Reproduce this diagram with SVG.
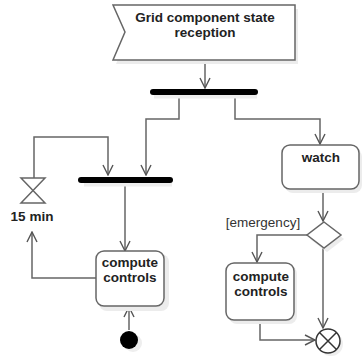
<svg xmlns="http://www.w3.org/2000/svg" width="362" height="363" viewBox="0 0 362 363">
<defs>
<style>
.shape{fill:#fff;stroke:#666;stroke-width:1.5}
.shadow{fill:#ececec;stroke:none}
.bar{stroke:#000;stroke-width:6;stroke-linecap:round}
.edge{fill:none;stroke:#666;stroke-width:1.5}
.lbl{font-family:"Liberation Sans",Arial,sans-serif;font-weight:bold;font-size:13.5px;fill:#222;text-anchor:middle}
.guard{font-family:"Liberation Sans",Arial,sans-serif;font-size:13.5px;fill:#333;text-anchor:middle}
</style>
<marker id="arr" viewBox="0 0 12 12" refX="11" refY="6" markerWidth="12" markerHeight="12" markerUnits="userSpaceOnUse" orient="auto">
<path d="M1,1 L11,6 L1,11" fill="none" stroke="#555" stroke-width="1.4"/>
</marker>
</defs>
<rect width="362" height="363" fill="#fff"/>
<g id="connectors">
<path class="edge" d="M205,60 V88" marker-end="url(#arr)"/>
<path class="edge" d="M179,95 V119 H146 V175" marker-end="url(#arr)"/>
<path class="edge" d="M235,95 V119 H320 V144" marker-end="url(#arr)"/>
<path class="edge" d="M34,178 V137 H108 V175" marker-end="url(#arr)"/>
<path class="edge" d="M125,183 V251" marker-end="url(#arr)"/>
<path class="edge" d="M96,278 H32 V232" marker-end="url(#arr)"/>
<path class="edge" d="M129,330 V307" marker-end="url(#arr)"/>
<path class="edge" d="M323,189 V221" marker-end="url(#arr)"/>
<path class="edge" d="M307,235 H257 V262" marker-end="url(#arr)"/>
<path class="edge" d="M323,248 V328" marker-end="url(#arr)"/>
<path class="edge" d="M260,320 V340 H315" marker-end="url(#arr)"/>
</g>
<g id="signal">
<path class="shadow" d="M116,9 H298 V64 H116 L128,36 Z"/>
<path class="shape" d="M113,5 H295 V60 H113 L125,32 Z"/>
<text class="lbl" x="205" y="22" font-size="13">Grid component state</text>
<text class="lbl" x="205" y="37" font-size="13">reception</text>
</g>
<g id="fork1">
<line x1="154" y1="96" x2="257" y2="96" stroke="#eee" stroke-width="5"/>
<line class="bar" x1="153" y1="92" x2="255" y2="92"/>
</g>
<g id="join1">
<line x1="84" y1="184" x2="172" y2="184" stroke="#eee" stroke-width="5"/>
<line class="bar" x1="81" y1="180" x2="170" y2="180"/>
</g>
<g id="timer">
<path d="M21,178 H45 L21,203 H45 Z" fill="#fff" stroke="#666" stroke-width="1.5"/>
<text class="lbl" x="32" y="221" font-size="13">15 min</text>
</g>
<g id="compute1">
<rect class="shadow" x="99" y="254" width="70" height="57" rx="8"/>
<rect class="shape" x="96" y="251" width="68" height="55" rx="8"/>
<text class="lbl" x="130" y="267">compute</text>
<text class="lbl" x="130" y="282">controls</text>
</g>
<g id="initial">
<circle cx="133" cy="343" r="9" fill="#eee"/>
<circle cx="129" cy="340" r="9" fill="#000"/>
</g>
<g id="watch">
<rect class="shadow" x="285" y="149" width="77" height="44" rx="8"/>
<rect class="shape" x="282" y="145" width="77" height="44" rx="8"/>
<text class="lbl" x="321" y="162">watch</text>
</g>
<g id="decision">
<path class="shadow" d="M327,226 L344,239 L327,252 L310,239 Z"/>
<path class="shape" d="M324,222 L341,235 L324,248 L307,235 Z"/>
<text class="guard" x="263" y="227">[emergency]</text>
</g>
<g id="compute2">
<rect class="shadow" x="229" y="266" width="68" height="58" rx="8"/>
<rect class="shape" x="226" y="263" width="68" height="57" rx="8"/>
<text class="lbl" x="261" y="281">compute</text>
<text class="lbl" x="261" y="296">controls</text>
</g>
<g id="flowfinal">
<circle cx="331" cy="344" r="12" fill="#eee"/>
<circle cx="328" cy="341" r="12" fill="#fff" stroke="#333" stroke-width="1.5"/>
<path d="M319.5,332.5 L336.5,349.5 M336.5,332.5 L319.5,349.5" stroke="#333" stroke-width="1.5"/>
</g>
</svg>
